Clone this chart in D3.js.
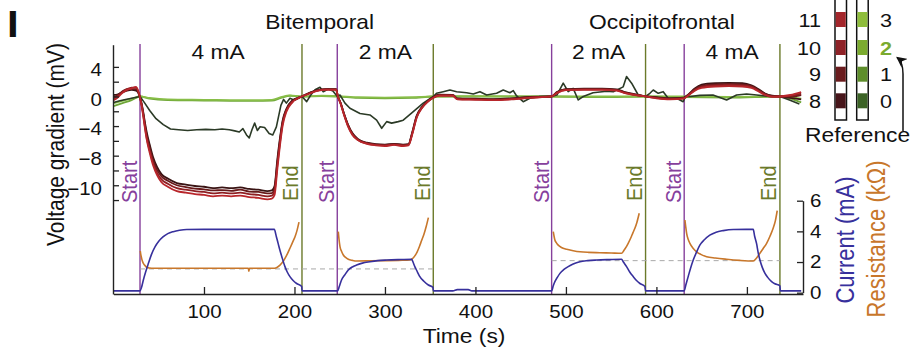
<!DOCTYPE html>
<html><head><meta charset="utf-8">
<script src="https://cdn.jsdelivr.net/npm/d3@7"></script>
<style>
html,body{margin:0;padding:0;background:#fff;}
svg{display:block;font-family:"Liberation Sans",Arial,Helvetica,sans-serif;}
</style></head><body>
<svg id="chart" width="920" height="352"></svg>
<script>
// ---------------- DATA ----------------
const timeGrid = [0,5,10,15,20,25,29,31,33,35,37,40,44,48,53,60,70,80,90,100,110,120,130,140,150,160,170,175,178,181,184,187,191,197,208,215,225,235,246,248,251,255,259,264,270,280,290,300,310,320,326,330,335,341,347,353,360,375,380,400,420,440,460,484,490,500,520,540,556,565,578,588,600,615,630,636,642,650,665,680,695,705,712,720,728,737,748,760];

const ch11 = [-0.5,-0.1,0.5,0.9,1.1,1.3,0,
 -1.2,-2.8,-4.5,-6.0,-7.6,-9.4,-10.6,-11.6,-12.2,
 -12.8,-13.0,-13.2,-13.3,-13.5,-13.4,-13.5,-13.4,-13.6,-13.7,-13.9,
 -13.8,-13.3,-9.9,-6.6,-3.9,-2.1,-0.9,0,
 0.3,0.75,0.9,0.9,0,-1.0,-2.6,-4.0,-5.2,-5.9,
 -6.4,-6.6,-6.7,-6.55,-6.7,-6.6,-5.2,-2.9,-1.55,-0.75,-0.2,
 0.1,0.1,-0.4,-0.45,-0.5,-0.4,-0.2,0,
 0.45,0.85,0.9,0.9,0.8,0.45,0.15,0,
 -0.25,-0.4,-0.3,0.2,0.75,1.15,1.35,1.4,1.35,1.15,
 0.75,0.2,-0.05,0,0.2,0.6];
const ch10 = [-0.3,0.1,0.6,1.0,1.2,1.2,0,
 -1.1,-2.6,-4.3,-5.8,-7.3,-9.1,-10.3,-11.2,-11.8,
 -12.4,-12.6,-12.8,-12.9,-13.1,-13.0,-13.1,-13.0,-13.2,-13.3,-13.5,
 -13.4,-12.8,-9.4,-6.2,-3.6,-1.9,-0.8,0,
 0.35,0.8,0.95,0.95,0,-0.95,-2.5,-3.9,-5.1,-5.85,
 -6.35,-6.55,-6.6,-6.5,-6.6,-6.55,-5.1,-2.8,-1.5,-0.7,-0.2,
 0.15,0.15,-0.35,-0.4,-0.45,-0.35,-0.15,0,
 0.5,0.9,0.95,0.95,0.85,0.5,0.2,0,
 -0.2,-0.35,-0.25,0.25,0.85,1.3,1.5,1.55,1.5,1.3,
 0.85,0.3,0,0,0.1,0.4];
const ch9 = [-0.1,0.2,0.7,1.0,1.0,1.0,0,
 -1.0,-2.4,-4.0,-5.4,-6.9,-8.7,-9.9,-10.8,-11.4,
 -12.0,-12.25,-12.45,-12.55,-12.7,-12.65,-12.75,-12.6,-12.85,-12.9,-13.1,
 -13.05,-12.4,-9.0,-5.9,-3.4,-1.8,-0.7,0,
 0.4,0.8,1.0,0.95,0,-0.9,-2.45,-3.8,-5.0,-5.8,
 -6.3,-6.5,-6.55,-6.45,-6.55,-6.5,-5.0,-2.7,-1.45,-0.7,-0.15,
 0.2,0.15,-0.3,-0.35,-0.4,-0.3,-0.1,0,
 0.55,0.95,1.0,1.0,0.9,0.55,0.2,0,
 -0.15,-0.3,-0.2,0.3,0.95,1.45,1.65,1.7,1.65,1.4,
 0.95,0.35,0.05,0,0.0,0.2];
const ch8 = [0.2,0.3,0.6,0.8,0.9,0.8,0,
 -0.9,-2.2,-3.7,-5.0,-6.5,-8.3,-9.5,-10.5,-11.1,
 -11.7,-11.9,-12.1,-12.2,-12.4,-12.3,-12.4,-12.3,-12.5,-12.6,-12.8,
 -12.7,-12.1,-8.6,-5.6,-3.2,-1.7,-0.6,0,
 0.4,0.85,1.0,1.0,0,-0.85,-2.4,-3.75,-4.95,-5.75,
 -6.25,-6.45,-6.5,-6.4,-6.5,-6.45,-4.9,-2.6,-1.4,-0.65,-0.1,
 0.25,0.2,-0.25,-0.3,-0.35,-0.25,-0.05,0,
 0.6,1.0,1.05,1.05,0.95,0.6,0.25,0,
 -0.1,-0.25,-0.15,0.35,1.05,1.6,1.8,1.85,1.8,1.5,
 1.05,0.4,0.1,0,-0.2,-0.4];

// channel 0 (dark) : [time s, mV]
const ch0 = [[0,-0.8],[6,-0.6],[12,-0.45],[20,-0.25],[29.3,0],[34,-0.8],[40,-1.9],[47,-3.0],[55,-3.8],[63,-4.4],[72,-4.5],[82,-4.6],[92,-4.5],[102,-4.45],[112,-4.5],[120,-4.4],[128,-4.5],[134,-4.65],[139,-4.8],[143,-4.35],[147,-5.2],[150,-5.6],[153,-4.5],[156,-3.6],[159,-4.6],[162,-4.1],[167,-4.2],[172,-5.0],[176,-5.2],[180,-4.1],[185,-1.2],[188,-0.4],[191,-0.9],[195,-0.25],[200,-0.5],[208.3,0],[213.5,-0.7],[218,0.2],[222.7,0.9],[228.2,1.25],[231.8,0.65],[237.3,1.0],[242.5,0.75],[247.3,0],[250.3,0.2],[255.8,-0.9],[261.3,-1.6],[272.4,-2.3],[283.4,-2.5],[290.8,-3.2],[296.4,-4.3],[301.9,-3.4],[307.4,-3.6],[314.7,-3.4],[320.2,-3.2],[331.3,-2.05],[342.3,-0.9],[353.4,0],[357,0.43],[364.4,0.65],[371.8,0.88],[379.2,0.65],[390.3,0.5],[397.6,0.34],[405,0.65],[412.4,0.2],[423.4,0.43],[430.7,0.88],[438.1,0.5],[441.8,0.8],[445.5,0.07],[452.8,-0.7],[460.2,-0.25],[471.3,0],[484.2,0],[490,0.2],[497,1.8],[502.5,0.65],[508,1.1],[513.6,-0.47],[519.1,0],[530,0.5],[545,0.7],[552.3,0.65],[563.3,1.3],[567,2.7],[572.6,1.8],[579.9,0.2],[588,0],[592.8,0.43],[596.5,0.88],[602,0.43],[607.5,0.65],[613,-0.25],[622.3,-0.25],[629.6,-0.7],[632,0],[637,0],[648,0.15],[662.5,0.2],[677.6,-0.47],[688.6,0.2],[699.7,0.34],[710.7,0.2],[725.4,0],[736.5,0],[747,-0.47],[758,-1.0]];

// channels 1 and 3 (light green) : [time s, mV]
const ch1 = [[0,-1.3],[10,-0.9],[20,-0.5],[29.3,0],[40,-0.3],[60,-0.5],[100,-0.55],[140,-0.6],[175,-0.55],[185,-0.2],[195,0.1],[208,0],[230,0.05],[247,0],[270,-0.2],[300,-0.25],[330,-0.2],[353,0],[400,0],[484,0],[540,-0.1],[588,0],[630,-0.1],[680,-0.15],[737,0],[748,-0.3],[760,-0.8]];
const ch3 = [[0,-0.9],[10,-0.6],[20,-0.3],[29.3,0],[40,-0.2],[60,-0.4],[100,-0.45],[140,-0.5],[175,-0.45],[185,-0.1],[195,0.15],[208,0],[230,0.1],[247,0.05],[270,-0.1],[300,-0.15],[330,-0.1],[353,0],[400,0.05],[484,0],[540,0],[588,0],[630,0],[680,-0.05],[737,0],[748,-0.1],[760,-0.3]];

// stimulation current (mA)
const currentData = [[0,0.12],[29.3,0.12],[31,0.35],[33,0.83],[35.5,1.35],[38.5,1.9],[42,2.5],[46,3.0],[50,3.35],[55,3.65],[60,3.85],[66,3.98],[73,4.07],[81,4.12],[100,4.13],[140,4.13],[177.7,4.13],[180,3.65],[182,3.2],[184,2.75],[186,2.35],[189.5,1.7],[192,1.35],[195,1.05],[198.5,0.8],[202.4,0.6],[208,0.4],[208.4,0.12],
[247.7,0.12],[249.5,0.4],[252,0.83],[255.5,1.15],[259.5,1.48],[264,1.68],[268.7,1.8],[275,1.93],[283.4,2.02],[292,2.09],[302,2.13],[315,2.16],[329.5,2.18],[331,2.0],[333,1.7],[335.5,1.4],[338,1.1],[343,0.75],[348,0.5],[353,0.35],[353.5,0.12],
[375,0.12],[380,0.2],[392,0.2],[396,0.12],
[484.2,0.12],[486,0.45],[487.8,0.72],[490.5,1.0],[493.4,1.26],[497.5,1.5],[502.5,1.7],[508,1.87],[515.5,2.02],[524,2.09],[533.9,2.13],[548,2.16],[561.5,2.18],[563.5,2.0],[567,1.7],[570.5,1.35],[574.4,1.05],[578,0.8],[581.8,0.6],[587.3,0.4],[588,0.12],
[630.7,0.12],[632.5,0.5],[635.1,1.05],[637.5,1.55],[640.7,2.13],[644,2.6],[648,3.1],[653,3.45],[659,3.75],[666,3.95],[673.8,4.05],[685,4.12],[707,4.13],[708.5,3.7],[710.7,3.2],[712.5,2.6],[714.4,2.13],[717,1.65],[720,1.26],[723,1.0],[727.3,0.72],[731,0.58],[736.5,0.45],[737,0.12],[760,0.12]];

// electrode resistance (kOhm), one segment per stimulation
const resistanceSegments = [
 [[29.6,2.72],[30.3,2.45],[31.1,2.24],[32,2.05],[33,1.92],[34.8,1.77],[36.7,1.66],[40,1.61],[44,1.59],[60,1.59],[100,1.59],[140,1.59],[149,1.59],[149.6,1.4],[150.2,1.59],[176.6,1.59],[180,1.63],[184,1.8],[186.8,1.98],[189.5,2.24],[192.3,2.55],[195,2.9],[198,3.3],[200.6,3.65],[203,4.1],[205,4.6]],
 [[248.4,3.98],[249.2,3.5],[250.3,3.0],[252,2.7],[254,2.46],[256.5,2.3],[259.5,2.18],[264,2.11],[268.7,2.07],[285,2.08],[301.9,2.09],[315,2.11],[327.6,2.13],[330,2.2],[333,2.4],[335.5,2.65],[338,3.0],[340.5,3.4],[343,3.8],[345.5,4.3],[348,4.9]],
 [[486,3.98],[487,3.65],[487.8,3.44],[489.5,3.25],[491.5,3.1],[495,2.95],[500.8,2.83],[508,2.74],[515.5,2.67],[525,2.63],[537.6,2.61],[550,2.59],[561.5,2.57],[564,2.75],[566.5,2.97],[568.8,3.22],[571.5,3.55],[574,3.9],[576.2,4.2],[578.5,4.6],[581,5.18]],
 [[631.5,4.74],[632.4,4.3],[633.4,3.87],[635,3.5],[637,3.22],[640.5,2.9],[644.4,2.67],[649,2.5],[655.5,2.35],[665,2.26],[677.6,2.18],[692,2.11],[707,2.07],[710.5,2.25],[714.4,2.57],[718,2.88],[721.8,3.22],[725.5,3.68],[729,4.2],[731.5,4.7],[733.5,5.35]]
];
// dashed reference resistance per montage: [t from, t to, kOhm]
const refResistance = [[29.3,353.4,1.55],[484.2,736.5,2.09]];

const startTimes = [29.3, 247.3, 484.2, 630.7];
const endTimes = [208.3, 353.4, 588, 736.5];
const montageLabels = ["Bitemporal", "Occipitofrontal"];
const currentLabels = ["4 mA", "2 mA", "2 mA", "4 mA"];
const xTicks = [100, 200, 300, 400, 500, 600, 700];
const yTickValues = [4, 2, 0, -2, -4, -6, -8, -10, -12, -14];
const yTickLabels = {"4": "4", "0": "0", "-4": "\u22124", "-8": "\u22128", "-12": "\u221210"};
const rightTicks = [0, 2, 4, 6];
const legendRed = ["11", "10", "9", "8"];
const legendGreen = ["3", "2", "1", "0"];

// ---------------- DRAW ----------------
const SX = 1.14;
const svg = d3.select("#chart");
const x = d3.scaleLinear().domain([0, 762]).range([113.5, 803]);
const yV = d3.scaleLinear().domain([7, -26.7]).range([44.7, 294]);
const yR = d3.scaleLinear().domain([0, 6]).range([292.7, 200.7]);

const C = {
  start: "#86409c", end: "#6b7a2a",
  ch11: "#b8262b", ch10: "#8f1f23", ch9: "#681a1b", ch8: "#3a1414",
  ch0: "#2b3a26", ch1: "#6ea637", ch3: "#88be48",
  cur: "#37309c", res: "#c8772b"
};

function txt(parent, px, py, s, size, opts = {}) {
  const t = parent.append("text")
    .attr("transform", `translate(${px},${py}) scale(${SX},1)` + (opts.rot ? " rotate(-90)" : ""))
    .attr("font-size", size)
    .attr("text-anchor", opts.anchor || "start")
    .attr("fill", opts.fill || "#111")
    .text(s);
  if (opts.weight) t.attr("font-weight", opts.weight);
  return t;
}

// event lines
const ev = svg.append("g");
startTimes.forEach(t => {
  ev.append("line").attr("x1", x(t)).attr("x2", x(t)).attr("y1", 44).attr("y2", 294)
    .attr("stroke", C.start).attr("stroke-width", 1.4);
  txt(ev, x(t) - 3, 203, "Start", 20, {rot: true, fill: C.start});
});
endTimes.forEach(t => {
  ev.append("line").attr("x1", x(t)).attr("x2", x(t)).attr("y1", 44).attr("y2", 294)
    .attr("stroke", C.end).attr("stroke-width", 1.4);
  txt(ev, x(t) - 3.5, 201, "End", 20, {rot: true, fill: C.end});
});

// dashed reference resistance
refResistance.forEach(([a, b, v]) => {
  svg.append("line").attr("x1", x(a)).attr("x2", x(b)).attr("y1", yR(v)).attr("y2", yR(v))
    .attr("stroke", "#a8a8a8").attr("stroke-width", 1).attr("stroke-dasharray", "5,4");
});

// voltage lines
const lineV = d3.line().x(d => x(d[0])).y(d => yV(d[1]));
const zipGrid = arr => timeGrid.map((t, i) => [t, arr[i]]);
const gV = svg.append("g").attr("fill", "none").attr("stroke-linejoin", "round");
gV.append("path").attr("d", lineV.curve(d3.curveMonotoneX)(ch1)).attr("stroke", C.ch1).attr("stroke-width", 1.8);
gV.append("path").attr("d", lineV.curve(d3.curveMonotoneX)(ch3)).attr("stroke", C.ch3).attr("stroke-width", 1.8);
gV.append("path").attr("d", lineV.curve(d3.curveLinear)(ch0)).attr("stroke", C.ch0).attr("stroke-width", 1.6);
[[ch8, C.ch8], [ch9, C.ch9], [ch10, C.ch10], [ch11, C.ch11]].forEach(([arr, col]) => {
  gV.append("path").attr("d", lineV.curve(d3.curveMonotoneX)(zipGrid(arr))).attr("stroke", col).attr("stroke-width", 1.8);
});

// current & resistance
const lineR = d3.line().x(d => x(d[0])).y(d => yR(d[1])).curve(d3.curveMonotoneX);
const gR = svg.append("g").attr("fill", "none");
resistanceSegments.forEach(seg => {
  gR.append("path").attr("d", lineR(seg)).attr("stroke", C.res).attr("stroke-width", 1.6);
});
gR.append("path").attr("d", lineR(currentData)).attr("stroke", C.cur).attr("stroke-width", 1.6);

// axes
function styleAxis(g) {
  g.attr("font-family", null).attr("font-size", null);
  g.selectAll("path.domain").attr("stroke", "#222").attr("stroke-width", 1.4);
  g.selectAll(".tick line").attr("stroke", "#222").attr("stroke-width", 1.3);
  g.selectAll(".tick text").attr("fill", "#111").attr("font-size", 18);
}
const gL = svg.append("g").attr("transform", "translate(113,0)")
  .call(d3.axisLeft(yV).tickValues(yTickValues).tickSizeInner(-6).tickSizeOuter(0).tickPadding(11)
    .tickFormat(v => yTickLabels[String(v)] || ""));
styleAxis(gL);
gL.selectAll(".tick text").attr("x", -11 / SX).attr("dy", "0.49em").attr("transform", `scale(${SX},1)`);

const gB = svg.append("g").attr("transform", "translate(0,294)")
  .call(d3.axisBottom(x).tickValues(xTicks).tickSizeInner(-7).tickSizeOuter(0).tickPadding(11));
styleAxis(gB);
gB.selectAll(".tick text").attr("transform", `scale(${SX},1)`);

const gRA = svg.append("g").attr("transform", "translate(803,0)")
  .call(d3.axisRight(yR).tickValues(rightTicks).tickSizeInner(-6).tickSizeOuter(0).tickPadding(7)
    .tickFormat(d3.format("d")));
styleAxis(gRA);
gRA.selectAll(".tick text").attr("x", 7 / SX).attr("transform", `scale(${SX},1)`);

// axis titles
txt(svg, 64, 144.5, "Voltage gradient (mV)", 21, {rot: true, anchor: "middle"});
txt(svg, 464, 343, "Time (s)", 20, {anchor: "middle"});
txt(svg, 854, 240, "Current (mA)", 22, {rot: true, anchor: "middle", fill: C.cur});
txt(svg, 885, 239, "Resistance (k\u03A9)", 22, {rot: true, anchor: "middle", fill: C.res});

// panel letter & titles
txt(svg, 7, 37, "I", 37, {weight: "bold"});
txt(svg, x((endTimes[0] + startTimes[1]) / 2), 28.5, montageLabels[0], 20, {anchor: "middle"});
txt(svg, x((endTimes[2] + startTimes[3]) / 2) - 3, 28.5, montageLabels[1], 20, {anchor: "middle"});
currentLabels.forEach((s, i) => {
  txt(svg, x((startTimes[i] + endTimes[i]) / 2) - (i === 0 ? 3 : 0), 58.5, s, 20, {anchor: "middle"});
});

// legend (electrode strips)
const lg = svg.append("g");
const redBlocks = ["#a3262b", "#8e2227", "#6a1c1e", "#47151a"];
const greenBlocks = ["#8fbe3c", "#7bab2f", "#5e8e2b", "#3c6326"];
const blockY = [12, 40, 66.7, 93.3];
[[835, redBlocks], [856.7, greenBlocks]].forEach(([sx, cols]) => {
  lg.append("rect").attr("x", sx).attr("y", -4).attr("width", 11.5).attr("height", 124)
    .attr("fill", "#fff").attr("stroke", "#111").attr("stroke-width", 1.5);
  cols.forEach((c, i) => {
    lg.append("rect").attr("x", sx + 0.75).attr("y", blockY[i]).attr("width", 10).attr("height", 15).attr("fill", c);
  });
});
legendRed.forEach((s, i) => txt(lg, 821, blockY[i] + 7.5 + 7, s, 19, {anchor: "end"}));
legendGreen.forEach((s, i) => {
  const ref = s === "2";
  txt(lg, 880, blockY[i] + 7.5 + 7, s, 19, {fill: ref ? "#7aaa2e" : "#111", weight: ref ? "bold" : null});
});
txt(lg, 805, 142, "Reference", 20);
const defs = svg.append("defs");
defs.append("marker").attr("id", "ah").attr("viewBox", "0 0 10 10").attr("refX", 9).attr("refY", 5)
  .attr("markerWidth", 7).attr("markerHeight", 7).attr("orient", "auto-start-reverse")
  .append("path").attr("d", "M0,0 L10,5 L0,10 L3,5 Z").attr("fill", "#111");
lg.append("path").attr("d", "M903,131 L903,74 Q903,62 897,57.5").attr("fill", "none")
  .attr("stroke", "#111").attr("stroke-width", 1.5).attr("marker-end", "url(#ah)");
</script>
</body></html>
